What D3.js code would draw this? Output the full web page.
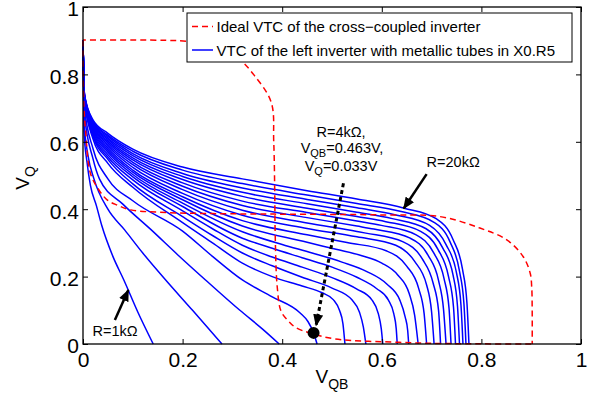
<!DOCTYPE html>
<html>
<head>
<meta charset="utf-8">
<script src="https://cdn.jsdelivr.net/npm/d3@7"></script>
<style>
  body { margin: 0; background: #fff; }
  text { font-family: "Liberation Sans", Arial, Helvetica, sans-serif; }
</style>
</head>
<body>
<script>
// load resistance of each blue curve, kOhm
var loadR = [1, 2, 3, 4, 5, 6, 7, 8, 9, 10, 11, 12, 13, 14, 15, 16, 17, 18, 19, 20];

// VTC of the left inverter, one [V_QB, V_Q] list per load resistance
var vtcR1 = [[0, .9], [.002, .63], [.008, .54], [.015, .47], [.027, .41], [.038, .35], [.06, .26], [.082, .19], [.11, .095], [.141, 0]];
var vtcR2 = [[0, .9], [.002, .66], [.01, .56], [.022, .49], [.05, .40], [.084, .338], [.12, .27], [.166, .19], [.22, .1], [.279, 0]];
var vtcR3 = [[0, .9], [.003, .68], [.02, .55], [.033, .49], [.08, .415], [.136, .34], [.19, .265], [.246, .19], [.315, .10], [.36, .045], [.394, 0]];
var vtcR4 = [[0, .9], [.003, .70], [.02, .58], [.05, .49], [.1, .425], [.2, .335], [.26, .26], [.32, .19], [.38, .14], [.436, .092], [.452, .066], [.463, .033], [.47, 0]];
var vtcR5 = [[0, .9], [.003, .72], [.02, .609], [.05, .536], [.1, .465], [.2, .36], [.26, .3], [.32, .24], [.38, .2], [.44, .172], [.48, .152], [.503, .131], [.515, .1], [.522, .06], [.526, 0]];
var vtcR6 = [[0, .9], [.003, .722], [.02, .617], [.05, .548], [.1, .475], [.2, .378], [.26, .322], [.32, .27], [.38, .232], [.44, .198], [.5, .166], [.54, .131], [.555, .095], [.563, .05], [.568, 0]];
var vtcR7 = [[0, .9], [.003, .724], [.02, .621], [.05, .555], [.1, .487], [.2, .395], [.26, .342], [.32, .293], [.38, .258], [.44, .228], [.5, .197], [.55, .163], [.58, .131], [.593, .09], [.599, .045], [.602, 0]];
var vtcR8 = [[0, .9], [.003, .726], [.02, .625], [.05, .562], [.1, .496], [.2, .408], [.32, .314], [.38, .284], [.44, .256], [.5, .228], [.55, .198], [.59, .164], [.613, .131], [.624, .09], [.629, .045], [.631, 0]];
var vtcR9 = [[0, .9], [.003, .727], [.02, .63], [.05, .569], [.1, .503], [.2, .418], [.32, .333], [.4, .295], [.46, .27], [.52, .243], [.57, .215], [.61, .178], [.636, .131], [.647, .08], [.652, .04], [.654, 0]];
var vtcR10 = [[0, .9], [.003, .729], [.02, .634], [.05, .575], [.1, .51], [.2, .428], [.32, .35], [.45, .302], [.508, .281], [.56, .262], [.6, .24], [.632, .205], [.655, .15], [.666, .085], [.673, 0]];
var vtcR11 = [[0, .9], [.003, .73], [.02, .638], [.05, .581], [.1, .516], [.2, .437], [.32, .366], [.45, .324], [.53, .301], [.61, .276], [.65, .231], [.674, .165], [.685, .09], [.69, 0]];
var vtcR12 = [[0, .9], [.003, .731], [.02, .641], [.05, .587], [.1, .524], [.2, .447], [.32, .382], [.45, .343], [.55, .318], [.628, .293], [.666, .245], [.69, .175], [.7, .095], [.705, 0]];
var vtcR13 = [[0, .9], [.003, .733], [.02, .645], [.05, .592], [.1, .532], [.2, .458], [.32, .397], [.45, .359], [.55, .334], [.568, .329], [.643, .303], [.681, .253], [.703, .181], [.714, .099], [.718, 0]];
var vtcR14 = [[0, .9], [.003, .734], [.02, .648], [.05, .597], [.1, .539], [.2, .468], [.32, .411], [.45, .375], [.55, .35], [.584, .341], [.657, .314], [.693, .263], [.714, .188], [.724, .102], [.729, 0]];
var vtcR15 = [[0, .9], [.003, .735], [.02, .651], [.05, .602], [.1, .546], [.2, .478], [.32, .424], [.45, .39], [.55, .365], [.599, .352], [.669, .324], [.704, .271], [.725, .194], [.735, .106], [.739, 0]];
var vtcR16 = [[0, .9], [.003, .736], [.02, .654], [.05, .607], [.1, .552], [.2, .488], [.32, .438], [.45, .403], [.55, .378], [.608, .363], [.678, .334], [.713, .28], [.734, .2], [.744, .109], [.748, 0]];
var vtcR17 = [[0, .9], [.003, .737], [.02, .656], [.05, .611], [.1, .559], [.2, .497], [.32, .45], [.45, .416], [.55, .391], [.621, .372], [.689, .342], [.722, .286], [.743, .205], [.752, .112], [.756, 0]];
var vtcR18 = [[0, .9], [.003, .738], [.02, .659], [.05, .616], [.1, .565], [.2, .506], [.32, .463], [.45, .429], [.55, .404], [.628, .383], [.696, .352], [.729, .295], [.75, .211], [.759, .115], [.763, 0]];
var vtcR19 = [[0, .9], [.003, .739], [.02, .662], [.05, .62], [.1, .572], [.2, .516], [.32, .476], [.45, .442], [.55, .417], [.639, .393], [.704, .362], [.737, .303], [.756, .216], [.765, .118], [.769, 0]];
var vtcR20 = [[0, .9], [.003, .74], [.02, .665], [.05, .625], [.1, .578], [.2, .525], [.32, .49], [.45, .455], [.55, .43], [.645, .403], [.71, .371], [.743, .31], [.762, .222], [.771, .121], [.775, 0]];

var vtcCurves = [vtcR1, vtcR2, vtcR3, vtcR4, vtcR5, vtcR6, vtcR7, vtcR8, vtcR9, vtcR10,
  vtcR11, vtcR12, vtcR13, vtcR14, vtcR15, vtcR16, vtcR17, vtcR18, vtcR19, vtcR20];

// ideal VTC [V_in, V_out]; the cross-coupled one is the same curve mirrored
var idealVtc = [[0, .9], [.0005, .8], [.002, .7], [.005, .635], [.015, .506], [.032, .457], [.049, .427], [.069, .412], [.096, .398],
  [.17, .39], [.32, .386], [.45, .385], [.6, .383], [.717, .378], [.797, .344], [.851, .309], [.884, .259], [.898, .21], [.901, .17], [.902, .1], [.902, 0]];

var xTicks = [0, 0.2, 0.4, 0.6, 0.8, 1];
var xTickLabels = ["0", "0.2", "0.4", "0.6", "0.8", "1"];
var yTicks = [0, 0.2, 0.4, 0.6, 0.8, 1];
var yTickLabels = ["0", "0.2", "0.4", "0.6", "0.8", "1"];

var markedPoint = [0.463, 0.033];
var legendLabels = ["Ideal VTC of the cross\u2212coupled inverter", "VTC of the left inverter with metallic tubes in X0.R5"];

var width = 590, height = 403;
var x = d3.scaleLinear().domain([0, 1]).range([83, 581]);
var y = d3.scaleLinear().domain([0, 1]).range([344, 7]);

var svg = d3.select("body").append("svg")
  .attr("width", width)
  .attr("height", height);

var defs = svg.append("defs");
defs.append("marker")
  .attr("id", "head")
  .attr("markerUnits", "userSpaceOnUse")
  .attr("viewBox", "0 0 12 10")
  .attr("refX", 11).attr("refY", 5)
  .attr("markerWidth", 12).attr("markerHeight", 10)
  .attr("orient", "auto")
  .append("path").attr("d", "M0,0 L12,5 L0,10 z").attr("fill", "#000");

var blueLine = d3.line()
  .x(function (d) { return x(d[0]); })
  .y(function (d) { return y(d[1]); })
  .curve(d3.curveMonotoneX);

svg.append("g").selectAll("path")
  .data(vtcCurves)
  .enter().append("path")
  .attr("d", blueLine)
  .attr("fill", "none")
  .attr("stroke", "#0000ff")
  .attr("stroke-width", 1.5);

var idealLine = d3.line()
  .x(function (d) { return x(d[0]); })
  .y(function (d) { return y(d[1]); })
  .curve(d3.curveCatmullRom.alpha(0.5));
var mirrorLine = d3.line()
  .x(function (d) { return x(d[1]); })
  .y(function (d) { return y(d[0]); })
  .curve(d3.curveCatmullRom.alpha(0.5));

[idealLine, mirrorLine].forEach(function (ln) {
  svg.append("path")
    .datum(idealVtc)
    .attr("d", ln)
    .attr("fill", "none")
    .attr("stroke", "#ff0000")
    .attr("stroke-width", 1.5)
    .attr("stroke-dasharray", "6,4");
});

// axes, MATLAB style: ticks inside, box all round
var fmtX = function (d, i) { return xTickLabels[i]; };
var fmtY = function (d, i) { return yTickLabels[i]; };

var gx = svg.append("g").attr("transform", "translate(0,344)")
  .call(d3.axisBottom(x).tickValues(xTicks).tickFormat(fmtX).tickSize(-5).tickPadding(8));
var gy = svg.append("g").attr("transform", "translate(83,0)")
  .call(d3.axisLeft(y).tickValues(yTicks).tickFormat(fmtY).tickSize(-5).tickPadding(4));
svg.append("g").attr("transform", "translate(0,7)")
  .call(d3.axisTop(x).tickValues(xTicks).tickFormat("").tickSize(-5));
svg.append("g").attr("transform", "translate(581,0)")
  .call(d3.axisRight(y).tickValues(yTicks).tickFormat("").tickSize(-5));

svg.selectAll(".domain").remove();
svg.selectAll(".tick line").attr("stroke", "#000");
svg.selectAll(".tick text")
  .attr("fill", "#000")
  .style("font-size", "21px");
gy.selectAll(".tick text").attr("dy", "0.42em");

svg.append("rect")
  .attr("x", 83).attr("y", 7)
  .attr("width", 498).attr("height", 337)
  .attr("fill", "none")
  .attr("stroke", "#000")
  .attr("stroke-width", 1.3);

// axis labels
var xl = svg.append("text")
  .attr("x", x(0.5)).attr("y", 383)
  .attr("text-anchor", "middle")
  .style("font-size", "19px");
xl.append("tspan").text("V");
xl.append("tspan").attr("dy", 6).style("font-size", "14px").text("QB");

var yl = svg.append("text")
  .attr("transform", "translate(29,178) rotate(-90)")
  .attr("text-anchor", "middle")
  .style("font-size", "19px");
yl.append("tspan").text("V");
yl.append("tspan").attr("dy", 6).style("font-size", "14px").text("Q");

// annotations
function arrow(from, to, dashed) {
  svg.append("line")
    .attr("x1", x(from[0])).attr("y1", y(from[1]))
    .attr("x2", x(to[0])).attr("y2", y(to[1]))
    .attr("stroke", "#000")
    .attr("stroke-width", dashed ? 3 : 2.5)
    .attr("stroke-dasharray", dashed ? "4,3" : null)
    .attr("marker-end", "url(#head)");
}

arrow([0.064, 0.071], [0.091, 0.16], false);
svg.append("text").attr("x", x(0.019)).attr("y", y(0.023))
  .style("font-size", "14.5px").text("R=1k\u03a9");

arrow([0.69, 0.504], [0.644, 0.402], false);
svg.append("text").attr("x", x(0.69)).attr("y", y(0.526))
  .style("font-size", "14.5px").text("R=20k\u03a9");

arrow([0.523, 0.477], [0.468, 0.055], true);
svg.append("circle")
  .attr("cx", x(markedPoint[0])).attr("cy", y(markedPoint[1]))
  .attr("r", 6).attr("fill", "#000");

var ann = svg.append("g").attr("text-anchor", "middle").style("font-size", "14.5px");
ann.append("text").attr("x", 341).attr("y", 137).text("R=4k\u03a9,");
var t2 = ann.append("text").attr("x", 342).attr("y", 153);
t2.append("tspan").text("V");
t2.append("tspan").attr("dy", 4).style("font-size", "11px").text("QB");
t2.append("tspan").attr("dy", -4).text("=" + markedPoint[0] + "V,");
var t3 = ann.append("text").attr("x", 341).attr("y", 171);
t3.append("tspan").text("V");
t3.append("tspan").attr("dy", 4).style("font-size", "11px").text("Q");
t3.append("tspan").attr("dy", -4).text("=" + markedPoint[1] + "V");

// legend
var lg = svg.append("g");
lg.append("rect")
  .attr("x", 187).attr("y", 13)
  .attr("width", 385).attr("height", 49)
  .attr("fill", "#fff")
  .attr("stroke", "#000")
  .attr("stroke-width", 1);
lg.append("line").attr("x1", 192).attr("x2", 213).attr("y1", 26.5).attr("y2", 26.5)
  .attr("stroke", "#ff0000").attr("stroke-width", 1.5).attr("stroke-dasharray", "6,4");
lg.append("line").attr("x1", 192).attr("x2", 213).attr("y1", 50).attr("y2", 50)
  .attr("stroke", "#0000ff").attr("stroke-width", 1.5);
lg.selectAll("text")
  .data(legendLabels)
  .enter().append("text")
  .attr("x", 216.5)
  .attr("y", function (d, i) { return 31.5 + i * 24.5; })
  .style("font-size", "15px")
  .text(function (d) { return d; });
</script>
</body>
</html>
